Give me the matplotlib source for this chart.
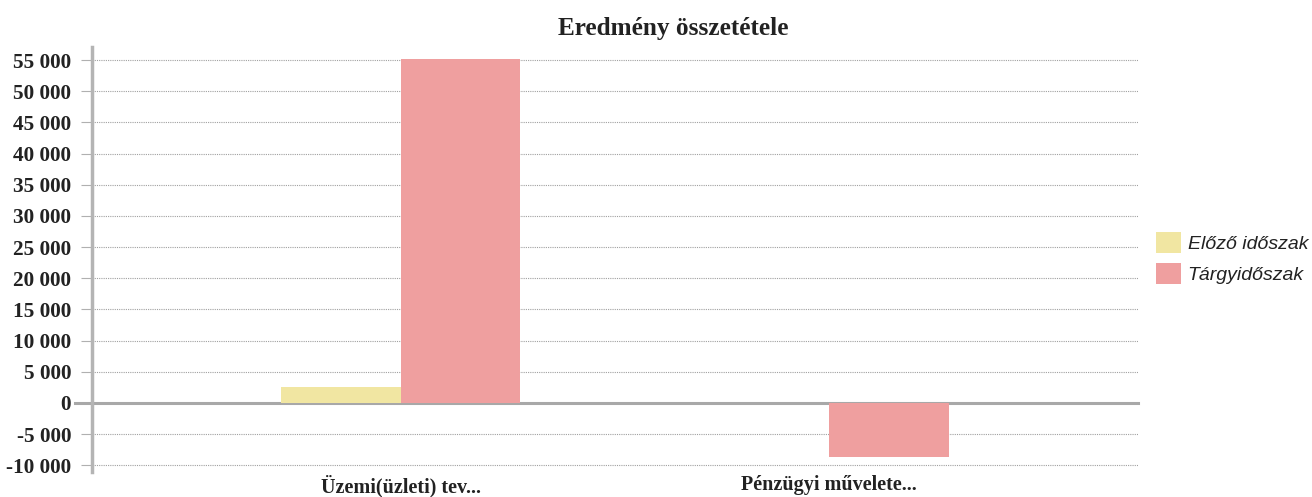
import numpy as np
import matplotlib
matplotlib.use('Agg')
import matplotlib.pyplot as plt
from matplotlib.ticker import FuncFormatter

# chart data
categories = ['Üzemi(üzleti) tev...', 'Pénzügyi művelete...']
series_names = ['Előző időszak', 'Tárgyidőszak']
elozo = [2500, 0]
targy = [55200, -8600]
y_ticks = list(range(-10000, 55001, 5000))

colors = ['#f1e6a2', '#ef9f9f']

fig = plt.figure(figsize=(13.12, 4.97), dpi=100)
ax = fig.add_axes([0.0701, 0.0503, 0.7973, 0.8551])

x = np.arange(len(categories))
w = 0.278
ax.bar(x - w / 2, elozo, width=w, color=colors[0], label=series_names[0], zorder=3)
ax.bar(x + w / 2, targy, width=w, color=colors[1], label=series_names[1], zorder=3)

ax.set_xlim(-0.72, 1.72)
ax.set_ylim(-11065, 57085)
ax.set_yticks(y_ticks)
ax.yaxis.set_major_formatter(FuncFormatter(lambda v, p: f'{int(v):,}'.replace(',', ' ')))

# dotted gridlines, solid zero line
for t in y_ticks:
    if t == 0:
        ax.axhline(0, xmin=-0.016, color='#a8a8a8', lw=2.2, zorder=2, clip_on=False)
    else:
        ax.axhline(t, color='#a0a0a0', lw=0.8, ls=(0, (1, 1)), zorder=1)

for s in ['top', 'right', 'bottom']:
    ax.spines[s].set_visible(False)
ax.spines['left'].set_color('#b4b4b4')
ax.spines['left'].set_linewidth(2.5)
ax.spines['left'].set_zorder(4)

serif = ['Liberation Serif', 'DejaVu Serif']
ax.tick_params(axis='y', length=8, width=0.8, color='#b0b0b0', pad=7)
ax.tick_params(axis='x', length=0, pad=2)
ax.set_xticks(x)
ax.set_xticklabels(categories)
for lbl in ax.get_yticklabels():
    lbl.set_fontfamily(serif)
    lbl.set_fontweight('bold')
    lbl.set_fontsize(15.3)
    lbl.set_color('#222222')
for lbl in ax.get_xticklabels():
    lbl.set_fontfamily(serif)
    lbl.set_fontweight('bold')
    lbl.set_fontsize(14.5)
    lbl.set_color('#222222')

fig.text(0.513, 0.943, 'Eredmény összetétele', ha='center', va='center',
         fontsize=18.2, fontweight='bold', family=serif, color='#222222')

leg = ax.legend(loc='center left', bbox_to_anchor=(1.0, 0.503), frameon=False,
                prop={'family': ['Liberation Sans', 'DejaVu Sans'], 'style': 'italic', 'size': 14},
                handlelength=1.3, handleheight=1.3, handletextpad=0.35, labelspacing=0.5)
for t in leg.get_texts():
    t.set_color('#222222')

fig.savefig('out.png', dpi=100)
